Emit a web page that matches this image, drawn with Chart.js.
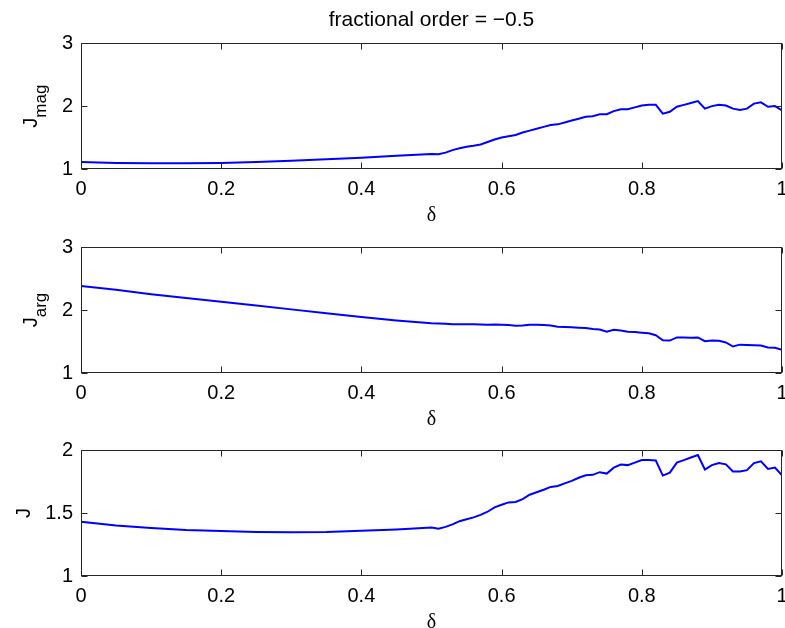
<!DOCTYPE html>
<html>
<head>
<meta charset="utf-8">
<script src="https://cdn.jsdelivr.net/npm/chart.js@4"></script>
<style>
  html, body { margin: 0; padding: 0; background: #fff; width: 785px; height: 628px; overflow: hidden; }
  .panel { position: absolute; left: 0; width: 785px; height: 235px; }
</style>
</head>
<body>
<div class="panel" style="top:0px"><canvas id="c1" width="785" height="235"></canvas></div>
<div class="panel" style="top:204px"><canvas id="c2" width="785" height="235"></canvas></div>
<div class="panel" style="top:407px"><canvas id="c3" width="785" height="235"></canvas></div>
<script>
// delta values (coarse on the smooth part, 0.01 steps after 0.5)
const delta = [
  0, 0.05, 0.1, 0.15, 0.2, 0.25, 0.3, 0.35, 0.4, 0.45,
  0.5, 0.51, 0.52, 0.53, 0.54, 0.55, 0.56, 0.57, 0.58, 0.59,
  0.6, 0.61, 0.62, 0.63, 0.64, 0.65, 0.66, 0.67, 0.68, 0.69,
  0.7, 0.71, 0.72, 0.73, 0.74, 0.75, 0.76, 0.77, 0.78, 0.79,
  0.8, 0.81, 0.82, 0.83, 0.84, 0.85, 0.86, 0.87, 0.88, 0.89,
  0.9, 0.91, 0.92, 0.93, 0.94, 0.95, 0.96, 0.97, 0.98, 0.99,
  1.0
];
const jMag = [
  1.11, 1.095, 1.09, 1.09, 1.095, 1.11, 1.13, 1.155, 1.18, 1.21,
  1.24, 1.235, 1.26, 1.30, 1.33, 1.355, 1.37, 1.39, 1.43, 1.47,
  1.50, 1.52, 1.54, 1.58, 1.61, 1.64, 1.67, 1.70, 1.71, 1.74,
  1.77, 1.80, 1.83, 1.84, 1.87, 1.87, 1.92, 1.95, 1.95, 1.98,
  2.01, 2.02, 2.02, 1.88, 1.91, 1.99, 2.02, 2.05, 2.08, 1.96,
  2.00, 2.02, 2.01, 1.96, 1.94, 1.96, 2.04, 2.06, 1.99, 2.00,
  1.93
];
const jArg = [
  2.38, 2.32, 2.25, 2.19, 2.13, 2.07, 2.01, 1.95, 1.89, 1.835,
  1.79, 1.785, 1.78, 1.775, 1.775, 1.775, 1.775, 1.77, 1.765, 1.77,
  1.765, 1.76, 1.75, 1.755, 1.765, 1.765, 1.76, 1.755, 1.735, 1.73,
  1.725, 1.72, 1.715, 1.70, 1.69, 1.655, 1.685, 1.675, 1.655, 1.65,
  1.64, 1.63, 1.60, 1.52, 1.515, 1.565, 1.565, 1.56, 1.565, 1.505,
  1.515, 1.51, 1.485, 1.42, 1.45, 1.445, 1.44, 1.435, 1.405, 1.40,
  1.37
];
const jTot = [
  1.43, 1.40, 1.38, 1.365, 1.357, 1.35, 1.347, 1.35, 1.36, 1.37,
  1.384, 1.375, 1.39, 1.41, 1.435, 1.45, 1.465, 1.485, 1.51, 1.545,
  1.565, 1.584, 1.587, 1.61, 1.645, 1.665, 1.685, 1.707, 1.715, 1.735,
  1.755, 1.78, 1.80, 1.803, 1.824, 1.813, 1.86, 1.885, 1.88, 1.90,
  1.92, 1.92, 1.917, 1.797, 1.82, 1.90, 1.92, 1.94, 1.96, 1.845,
  1.88, 1.896, 1.886, 1.83, 1.83, 1.84, 1.896, 1.91, 1.85, 1.86,
  1.80
];

const xTicks = [0, 0.2, 0.4, 0.6, 0.8, 1];
const xTickLabels = ['0', '0.2', '0.4', '0.6', '0.8', '1'];
const yTicksWide = [1, 2, 3];
const yTickLabelsWide = ['1', '2', '3'];
const yTicksNarrow = [1, 1.5, 2];
const yTickLabelsNarrow = ['1', '1.5', '2'];

const sans = '"Liberation Sans", Arial, Helvetica, sans-serif';
const serif = '"Liberation Serif", "Times New Roman", serif';

// box round the axes with inward ticks on all four sides
const boxPlugin = {
  id: 'box',
  afterDatasetsDraw(chart) {
    const { ctx, chartArea: a, scales: { x, y } } = chart;
    const L = Math.round(a.left) + 0.5, R = Math.round(a.right) - 0.5;
    const T = Math.round(a.top) + 0.5, B = Math.round(a.bottom) - 0.5;
    ctx.save();
    ctx.strokeStyle = '#262626';
    ctx.lineWidth = 1;
    ctx.strokeRect(L, T, R - L, B - T);
    ctx.beginPath();
    x.ticks.forEach(t => {
      const px = Math.round(x.getPixelForValue(t.value)) + 0.5;
      ctx.moveTo(px, B); ctx.lineTo(px, B - 6);
      ctx.moveTo(px, T); ctx.lineTo(px, T + 6);
    });
    y.ticks.forEach(t => {
      const py = Math.round(y.getPixelForValue(t.value)) + 0.5;
      ctx.moveTo(L, py); ctx.lineTo(L + 6, py);
      ctx.moveTo(R, py); ctx.lineTo(R - 6, py);
    });
    ctx.stroke();
    ctx.restore();
  }
};

// rotated y label with subscript (J_mag, J_arg, J)
const ylabPlugin = {
  id: 'ylab',
  afterDraw(chart, args, opts) {
    const { ctx, chartArea } = chart;
    const cy = (chartArea.top + chartArea.bottom) / 2;
    ctx.save();
    ctx.fillStyle = '#000';
    ctx.font = '20px ' + sans;
    const wMain = ctx.measureText(opts.main).width;
    ctx.font = '17px ' + sans;
    const wSub = opts.sub ? ctx.measureText(opts.sub).width : 0;
    ctx.translate(opts.x, cy + (wMain + wSub) / 2);
    ctx.rotate(-Math.PI / 2);
    ctx.textAlign = 'left';
    ctx.textBaseline = 'alphabetic';
    ctx.font = '20px ' + sans;
    ctx.fillText(opts.main, 0, 0);
    if (opts.sub) {
      ctx.font = '17px ' + sans;
      ctx.fillText(opts.sub, wMain, 9);
    }
    ctx.restore();
  }
};

function makePanel(id, values, yMin, yMax, yTicks, yTickLabels, ylab, title) {
  return new Chart(document.getElementById(id), {
    type: 'line',
    data: {
      datasets: [{
        data: delta.map((d, i) => ({ x: d, y: values[i] })),
        borderColor: '#0000ff',
        borderWidth: 2,
        pointRadius: 0,
        tension: 0,
        fill: false
      }]
    },
    options: {
      responsive: false,
      animation: false,
      devicePixelRatio: 1,
      layout: { padding: { top: title ? 0 : 43, right: 3, bottom: 0, left: 0 } },
      plugins: {
        legend: { display: false },
        tooltip: { enabled: false },
        title: {
          display: !!title,
          text: title,
          fullSize: false,
          color: '#000',
          font: { family: sans, size: 21, weight: 'normal' },
          padding: { top: 8, bottom: 10 }
        },
        ylab: ylab
      },
      scales: {
        x: {
          type: 'linear',
          min: 0,
          max: 1,
          grid: { display: false, drawTicks: false },
          border: { display: false },
          afterBuildTicks: s => { s.ticks = xTicks.map(v => ({ value: v })); },
          ticks: {
            callback: (v, i) => xTickLabels[i],
            color: '#000',
            font: { family: sans, size: 20 },
            padding: 8,
            maxRotation: 0,
            autoSkip: false
          },
          title: {
            display: true,
            text: 'δ',
            color: '#000',
            font: { family: serif, size: 20 },
            padding: { top: 0, bottom: 7 }
          },
          afterFit: s => { s.height = 66; s.paddingLeft = 0; s.paddingRight = 0; }
        },
        y: {
          type: 'linear',
          min: yMin,
          max: yMax,
          grid: { display: false, drawTicks: false },
          border: { display: false },
          afterBuildTicks: s => { s.ticks = yTicks.map(v => ({ value: v })); },
          ticks: {
            callback: (v, i) => yTickLabels[i],
            color: '#000',
            font: { family: sans, size: 20 },
            padding: 8,
            autoSkip: false
          },
          afterFit: s => { s.width = 81; }
        }
      }
    },
    plugins: [boxPlugin, ylabPlugin]
  });
}

makePanel('c1', jMag, 1, 3, yTicksWide, yTickLabelsWide, { main: 'J', sub: 'mag', x: 37 }, 'fractional order = \u22120.5');
makePanel('c2', jArg, 1, 3, yTicksWide, yTickLabelsWide, { main: 'J', sub: 'arg', x: 37 }, '');
makePanel('c3', jTot, 1, 2, yTicksNarrow, yTickLabelsNarrow, { main: 'J', sub: '', x: 30 }, '');
</script>
</body>
</html>
